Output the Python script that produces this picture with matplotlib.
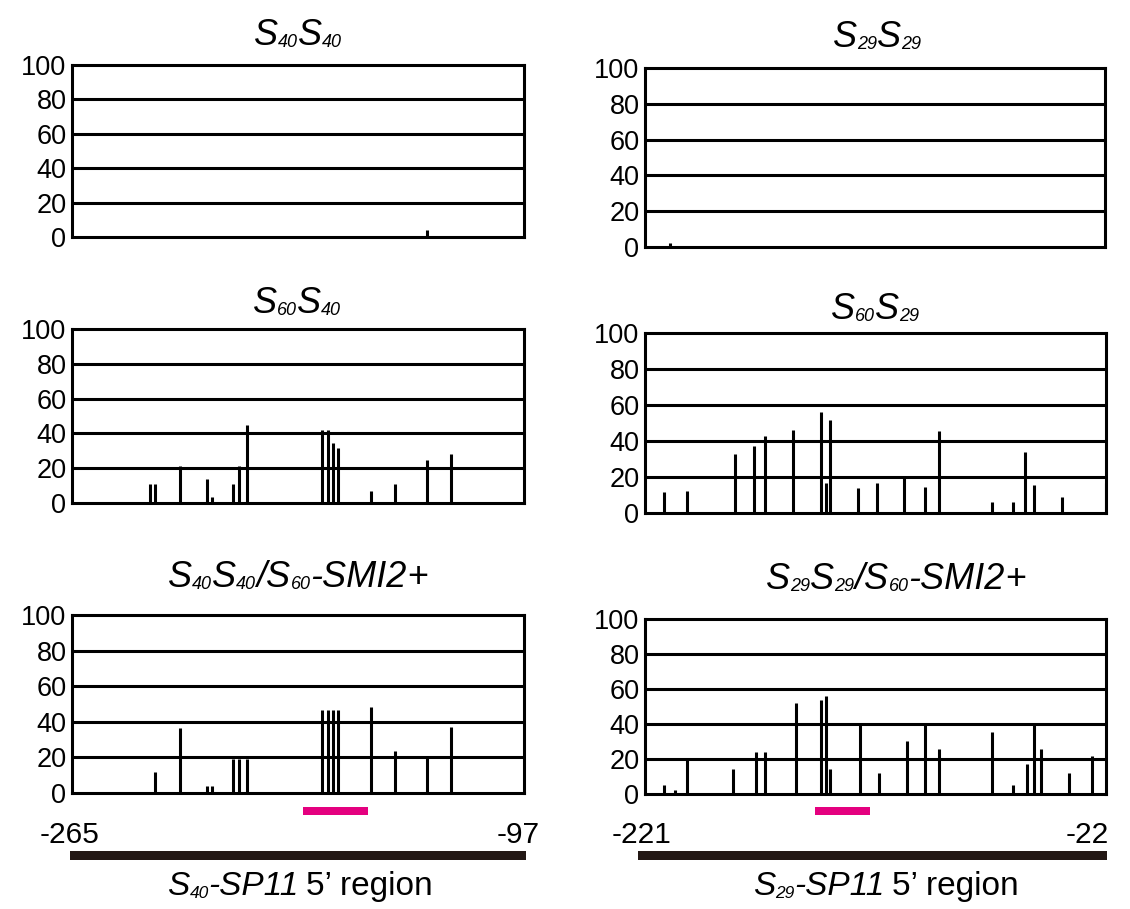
import matplotlib
matplotlib.use('Agg')
import matplotlib.pyplot as plt
from matplotlib.transforms import IdentityTransform, blended_transform_factory
from matplotlib.patches import Rectangle

plt.rcParams['font.family'] = ['Liberation Sans', 'DejaVu Sans']

W, H, DPI = 1130, 909, 100

# ---------------- data ----------------
left_range = (-265, -97)
right_range = (-221, -22)
yticks = [0, 20, 40, 60, 80, 100]

s40s40_pos = [-133]
s40s40_val = [4]

s29s29_pos = [-210]
s29s29_val = [2.5]

s60s40_pos = [-236, -234, -225, -215, -213, -205, -203, -200,
              -172, -170, -168, -166, -154, -145, -133, -124]
s60s40_val = [11, 11, 21, 14, 3.5, 11, 21, 45,
              42, 42, 34.5, 31.5, 7, 11, 24.5, 28]

s60s29_pos = [-213, -203, -182, -174, -169, -157, -145, -143, -141, -129,
              -121, -109, -100, -94, -71, -62, -57, -53, -41, -22]
s60s29_val = [11.5, 12, 33, 37, 43, 46, 56, 16.5, 51.5, 14,
              16.5, 20.5, 14.5, 45.5, 6, 6, 34, 15.5, 9, 16.5]

s40smi_pos = [-234, -225, -215, -213, -205, -203, -200,
              -172, -170, -168, -166, -154, -145, -133, -124]
s40smi_val = [12, 36.5, 4, 4, 19, 19, 19,
              46.5, 46.5, 46.5, 46.5, 48.5, 23.5, 19.5, 37]

s29smi_pos = [-213, -208, -203, -183, -173, -169, -156, -145, -143, -141, -128,
              -120, -108, -100, -94, -71, -62, -56, -53, -50, -38, -28]
s29smi_val = [5, 2.5, 19.5, 14.5, 24, 24, 52, 54, 56, 14.5, 39.5,
              12, 30.5, 39.5, 26, 35.5, 5, 17, 39.5, 26, 12, 21.5]

pink_left = (-179, -155)
pink_right = (-147.5, -124)

# ---------------- layout (image pixel coords) ----------------
fig = plt.figure(figsize=(W / DPI, H / DPI), dpi=DPI)
renderer = fig.canvas.get_renderer()
ID = IdentityTransform()


def make_ax(x0, x1, ytop, ybot, xr, pos, val):
    ax = fig.add_axes([x0 / W, (H - ybot) / H, (x1 - x0) / W, (ybot - ytop) / H])
    ax.set_xlim(*xr)
    ax.set_ylim(0, 100)
    for y in yticks[1:-1]:
        ax.axhline(y, color='black', lw=2.2, zorder=1)
    ax.vlines(pos, 0, val, color='black', lw=2.2, zorder=2)
    for sp in ax.spines.values():
        sp.set_linewidth(2.2)
        sp.set_color('black')
    ax.set_xticks([])
    ax.set_yticks(yticks)
    ax.set_yticklabels([str(t) for t in yticks], fontsize=19.5)
    ax.tick_params(axis='y', length=0, pad=4)
    return ax


def rich(x, y, segs, ha='center'):
    """segs: (text, size, style, dy, gap) ; x,y = image pixel coords of baseline"""
    items = []
    cx = 0.0
    for txt, size, style, dy, gap in segs:
        cx += gap
        t = fig.text(0, 0, txt, fontsize=size, style=style, va='baseline',
                     ha='left', transform=ID)
        w = t.get_window_extent(renderer).width
        items.append((t, cx, dy))
        cx += w
    x0 = x - cx / 2 if ha == 'center' else x
    for t, ox, dy in items:
        t.set_position((x0 + ox, H - y + dy))


axL1 = make_ax(72, 524, 65, 237, left_range, s40s40_pos, s40s40_val)
axR1 = make_ax(645, 1105, 68, 247, right_range, s29s29_pos, s29s29_val)
axL2 = make_ax(72, 524, 329, 503, left_range, s60s40_pos, s60s40_val)
axR2 = make_ax(645, 1106, 333, 513, right_range, s60s29_pos, s60s29_val)
axL3 = make_ax(72, 524, 615, 793, left_range, s40smi_pos, s40smi_val)
axR3 = make_ax(645, 1106, 619, 794, right_range, s29smi_pos, s29smi_val)

TS, SS = 26, 13


def sub_pair(a, b):
    return [('S', TS, 'italic', 0, 0), (a, SS, 'italic', -2, 0),
            ('S', TS, 'italic', 0, 0), (b, SS, 'italic', -2, 0)]


def smi_tail():
    return [('/', TS, 'italic', 0, 0.5), ('S', TS, 'italic', 0, 0),
            ('60', SS, 'italic', -2, 0), ('-SMI2', TS, 'italic', 0, 0),
            ('+', TS, 'normal', 0, 0.5)]


rich(298, 45, sub_pair('40', '40'))
rich(877, 47, sub_pair('29', '29'))
rich(297, 313, sub_pair('60', '40'))
rich(875, 319, sub_pair('60', '29'))
rich(298, 587, sub_pair('40', '40') + smi_tail())
rich(896, 589, sub_pair('29', '29') + smi_tail())

# pink bars (data x) and region bars
for ax, pink in [(axL3, pink_left), (axR3, pink_right)]:
    tr = blended_transform_factory(ax.transData, ID)
    fig.add_artist(Rectangle((pink[0], H - 815), pink[1] - pink[0], 8,
                             transform=tr, color='#E4007F', lw=0))

for x0, x1 in [(70, 526), (638, 1107)]:
    fig.add_artist(Rectangle((x0, H - 860), x1 - x0, 9, transform=ID,
                             color='#231815', lw=0))

LS = 21.5
fig.text(70, H - 843, str(left_range[0]), fontsize=LS, ha='center', va='baseline', transform=ID)
fig.text(540, H - 843, str(left_range[1]), fontsize=LS, ha='right', va='baseline', transform=ID)
fig.text(642, H - 843, str(right_range[0]), fontsize=LS, ha='center', va='baseline', transform=ID)
fig.text(1109, H - 843, str(right_range[1]), fontsize=LS, ha='right', va='baseline', transform=ID)

BS = 24
rich(300, 895, [('S', BS, 'italic', 0, 0), ('40', 12.5, 'italic', -3, 0),
                ('-SP11', BS, 'italic', 0, 0), ('5’ region', BS, 'normal', 0, 7)])
rich(886, 895, [('S', BS, 'italic', 0, 0), ('29', 12.5, 'italic', -3, 0),
                ('-SP11', BS, 'italic', 0, 0), ('5’ region', BS, 'normal', 0, 7)])

fig.savefig('out.png', dpi=DPI)
